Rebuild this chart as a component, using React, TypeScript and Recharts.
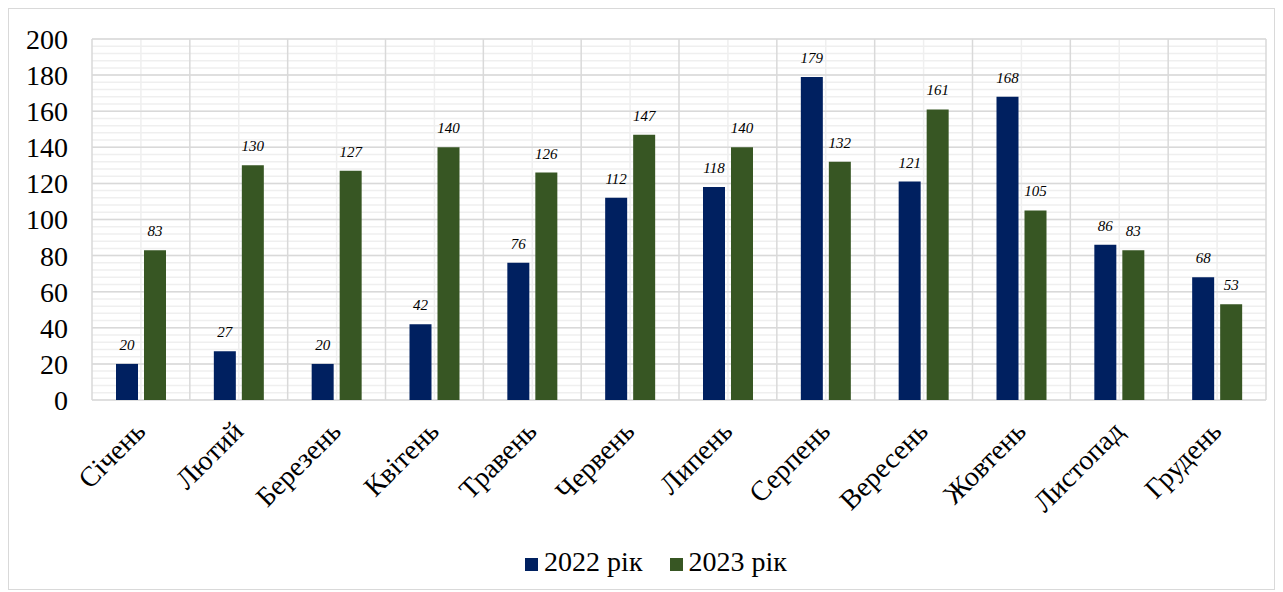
import React from "react";
import {
  BarChart,
  Bar,
  XAxis,
  YAxis,
  CartesianGrid,
  Legend,
  LabelList,
} from "recharts";

const months = [
  "Січень",
  "Лютий",
  "Березень",
  "Квітень",
  "Травень",
  "Червень",
  "Липень",
  "Серпень",
  "Вересень",
  "Жовтень",
  "Листопад",
  "Грудень",
];
const values2022 = [20, 27, 20, 42, 76, 112, 118, 179, 121, 168, 86, 68];
const values2023 = [83, 130, 127, 140, 126, 147, 140, 132, 161, 105, 83, 53];
const yTicks = [0, 20, 40, 60, 80, 100, 120, 140, 160, 180, 200];

const data = months.map((m, i) => ({
  month: m,
  y2022: values2022[i],
  y2023: values2023[i],
}));

// minor lines every 4 units
const minorY: number[] = [];
for (let v = 0; v <= 200; v += 4) minorY.push(v);

const FONT = "'Liberation Serif', 'Times New Roman', serif";

const majorVertical = ({ offset }: any) =>
  months.concat([""]).map((_, i) => offset.left + (offset.width * i) / months.length);
const minorVertical = ({ offset }: any) =>
  months.map((_, i) => offset.left + (offset.width * (i + 0.5)) / months.length);

const MonthTick = (props: any) => {
  const { x, y, payload } = props;
  return (
    <g transform={`translate(${x + 6},${y + 25})`}>
      <text
        transform="rotate(-45)"
        textAnchor="end"
        style={{ fontSize: 28, fontFamily: FONT, fill: "#000" }}
      >
        {payload.value}
      </text>
    </g>
  );
};

const labelStyle = {
  fontFamily: FONT,
  fontSize: 15,
  fontStyle: "italic",
  fill: "#000",
};

export default function App() {
  return (
    <div
      style={{
        width: 1265,
        height: 580,
        border: "1px solid #d9d9d9",
        background: "#fff",
      }}
    >
      <BarChart
        width={1265}
        height={580}
        data={data}
        margin={{ top: 30, right: 8, left: 0, bottom: 13 }}
        barSize={22}
        barGap={6}
      >
        <CartesianGrid
          stroke="#efefef"
          strokeWidth={1.5}
          horizontalValues={minorY}
          verticalCoordinatesGenerator={minorVertical}
        />
        <CartesianGrid
          stroke="#d9d9d9"
          strokeWidth={1.5}
          horizontalValues={yTicks}
          verticalCoordinatesGenerator={majorVertical}
        />
        <XAxis
          dataKey="month"
          axisLine={false}
          tickLine={false}
          interval={0}
          height={146}
          tick={<MonthTick />}
        />
        <YAxis
          domain={[0, 200]}
          ticks={yTicks}
          interval={0}
          axisLine={false}
          tickLine={false}
          tickSize={0}
          tickMargin={24}
          width={83}
          tick={{ fontSize: 28, fontFamily: FONT, fill: "#000" }}
        />
        <Legend
          verticalAlign="bottom"
          iconType="square"
          iconSize={13}
          height={30}
          wrapperStyle={{ fontFamily: FONT, fontSize: 28, paddingLeft: 32 }}
          formatter={(v: string) => (
            <span style={{ color: "#000", marginLeft: 2, marginRight: 17 }}>{v}</span>
          )}
        />
        <Bar dataKey="y2022" name="2022 рік" fill="#002060" isAnimationActive={false}>
          <LabelList dataKey="y2022" position="top" offset={14} style={labelStyle} />
        </Bar>
        <Bar dataKey="y2023" name="2023 рік" fill="#375623" isAnimationActive={false}>
          <LabelList dataKey="y2023" position="top" offset={14} style={labelStyle} />
        </Bar>
      </BarChart>
    </div>
  );
}
